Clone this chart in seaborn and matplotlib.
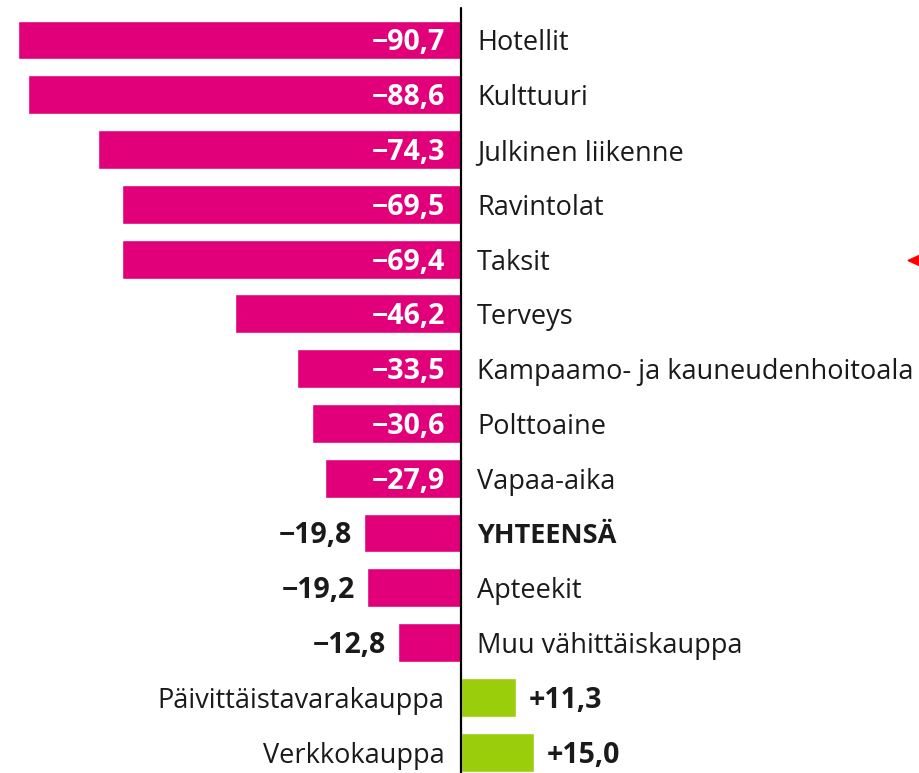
import seaborn as sns
import matplotlib.pyplot as plt
import pandas as pd

categories = ['Hotellit', 'Kulttuuri', 'Julkinen liikenne', 'Ravintolat', 'Taksit',
              'Terveys', 'Kampaamo- ja kauneudenhoitoala', 'Polttoaine', 'Vapaa-aika',
              'YHTEENSÄ', 'Apteekit', 'Muu vähittäiskauppa',
              'Päivittäistavarakauppa', 'Verkkokauppa']
values = [-90.7, -88.6, -74.3, -69.5, -69.4, -46.2, -33.5, -30.6, -27.9,
          -19.8, -19.2, -12.8, 11.3, 15.0]

magenta = '#E2007A'
green = '#9ACD0A'

df = pd.DataFrame({'cat': categories, 'val': values})
df['sign'] = ['neg' if v < 0 else 'pos' for v in values]

sns.set_style('white')
plt.rcParams['font.family'] = ['Open Sans', 'DejaVu Sans']

fig = plt.figure(figsize=(9.2, 7.73), dpi=100)
ax = fig.add_axes([0, 0, 1, 1])

sns.barplot(data=df, x='val', y='cat', hue='sign', palette={'neg': magenta, 'pos': green},
            dodge=False, width=0.71, legend=False, orient='h', ax=ax, saturation=1)

ax.set_xlim(-94.4, 94.0)
ax.set_ylim(13.38, -0.73)
ax.axvline(0, ymax=0.99, color='black', lw=1.6, zorder=5)
ax.axis('off')

fs_cat = 19.5
fs_val = 20.5
dy = -7.5  # baseline offset (points) below bar centre
txtcol = '#1a1a1a'


def label(x, y, s, ha, **kw):
    ax.annotate(s, (x, y), xytext=(0, dy), textcoords='offset points',
                ha=ha, va='baseline', **kw)


for i, (c, v) in enumerate(zip(categories, values)):
    txt = f'{v:+.1f}'.replace('.', ',').replace('-', '\u2212')
    weight = 'bold' if c == 'YHTEENSÄ' else 'normal'
    if v < 0:
        label(3.3, i, c, 'left', fontsize=fs_cat, color=txtcol, fontweight=weight)
        if abs(v) >= 25:
            label(-3.3, i, txt, 'right', fontsize=fs_val, color='white', fontweight='bold')
        else:
            label(v - 2.5, i, txt, 'right', fontsize=fs_val, color=txtcol, fontweight='bold')
    else:
        label(-3.3, i, c, 'right', fontsize=fs_cat, color=txtcol)
        label(v + 2.6, i, txt, 'left', fontsize=fs_val, color=txtcol, fontweight='bold')

# small red marker at right edge
fig.patches.append(plt.Polygon([[0.987, 0.663], [1.0, 0.656], [1.0, 0.670]],
                               closed=True, transform=fig.transFigure,
                               color='red', figure=fig))

fig.savefig('out.png', dpi=100)
